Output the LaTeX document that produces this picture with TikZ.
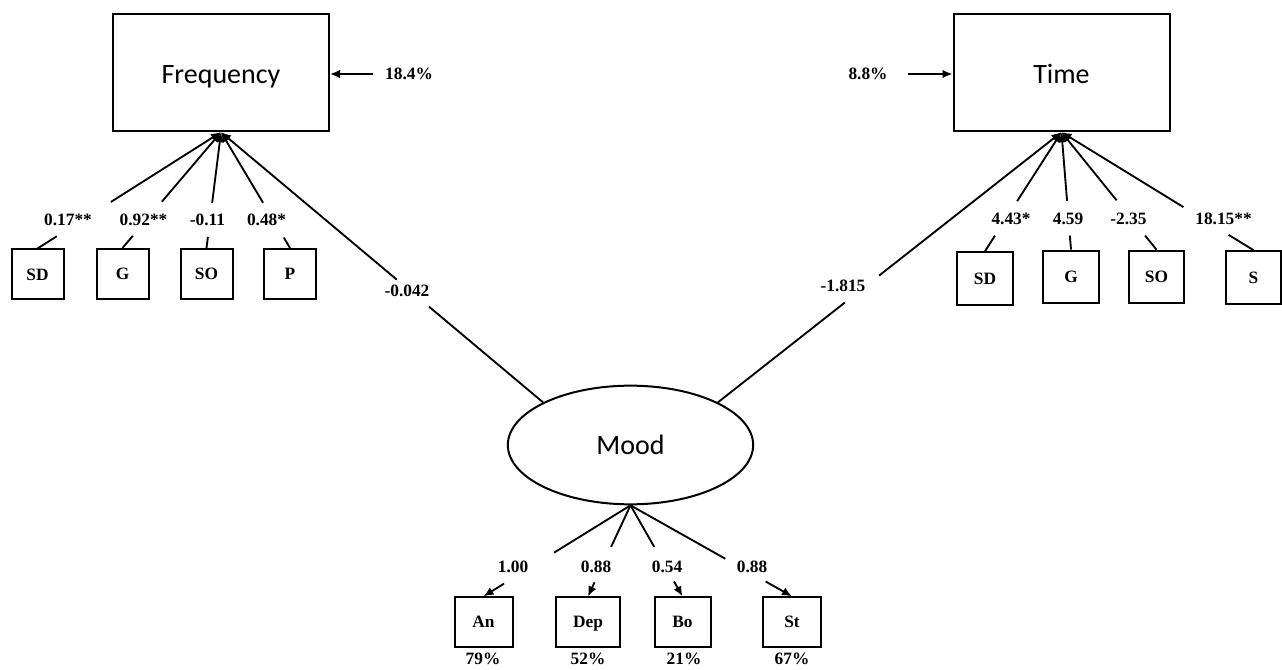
\documentclass[tikz,border=0pt]{standalone}
\usepackage{fontspec}
\setmainfont{Liberation Serif}
\newfontfamily\calibrifont{Carlito}
\usetikzlibrary{arrows.meta,calc,shapes.geometric}

\tikzset{
  construct/.style={draw, line width=1.5pt, minimum width=162pt, minimum height=88pt,
    text height=15.8pt, text depth=0pt, font=\calibrifont\fontsize{21}{25}\selectfont},
  latent/.style={draw, ellipse, line width=1.5pt, inner sep=0pt, minimum width=184pt,
    minimum height=89pt, font=\calibrifont\fontsize{21}{25}\selectfont},
  indicator/.style={draw, line width=1.5pt, inner sep=0pt, minimum width=39pt,
    minimum height=37.5pt, text height=8.7pt, text depth=0pt,
    font=\bfseries\fontsize{13}{15}\selectfont},
  coef/.style={inner sep=0pt, font=\bfseries\fontsize{13}{15}\selectfont},
  link/.style={line width=1.4pt},
  tipend/.style={-{Latex[length=7.5pt,width=6.5pt]}},
  tipstart/.style={{Latex[length=7.5pt,width=6.5pt]}-},
}

\begin{document}
\begin{tikzpicture}[x=0.75pt,y=-0.75pt]
\useasboundingbox (0,0) rectangle (1282,670);

% constructs
\node[construct] (freq) at (221,72.5) {Frequency};
\node[construct] (time) at (1061.5,72.5) {Time};
\node[latent] (mood) at (630.5,445) {Mood};

% explained variance
\node[coef] (r2freq) at (409,74) {18.4\%};
\node[coef] (r2time) at (868,74) {8.8\%};
\draw[link,tipend,shorten <=9pt] (r2freq.west) -- (r2freq.west -| freq.east);
\draw[link,tipend,shorten <=15pt] (r2time.east) -- (r2time.east -| time.west);

% indicators of frequency
\node[indicator] (fSD) at (37.5,274.5) {SD};
\node[indicator] (fG) at (122.5,274) {G};
\node[indicator] (fSO) at (206.5,274) {SO};
\node[indicator] (fP) at (290,274) {P};
\node[coef] (cfSD) at (68,220) {0.17**};
\node[coef] (cfG) at (143.5,220) {0.92**};
\node[coef] (cfSO) at (207.5,220) {-0.11};
\node[coef] (cfP) at (266.5,220) {0.48*};

% indicators of time
\node[indicator,minimum width=41.5pt,minimum height=39.5pt] (tSD) at (985,278.5) {SD};
\node[indicator,minimum width=41.5pt,minimum height=39.5pt] (tG) at (1071,277) {G};
\node[indicator,minimum width=41.5pt,minimum height=39.5pt] (tSO) at (1156.5,277) {SO};
\node[indicator,minimum width=41.5pt,minimum height=39.5pt] (tS) at (1253.5,277.5) {S};
\node[coef] (ctSD) at (1011,219) {4.43*};
\node[coef] (ctG) at (1068,219) {4.59};
\node[coef] (ctSO) at (1128.5,219) {-2.35};
\node[coef] (ctS) at (1223.5,219) {18.15**};

% indicators of mood
\node[indicator,minimum width=43.5pt,minimum height=37pt] (mAn) at (483.5,622) {An};
\node[indicator,minimum width=47.5pt,minimum height=37pt] (mDep) at (588,622) {Dep};
\node[indicator,minimum width=42pt,minimum height=37pt] (mBo) at (682.5,622) {Bo};
\node[indicator,minimum width=43pt,minimum height=37pt] (mSt) at (792,622) {St};
\node[coef] (cmAn) at (513,567) {1.00};
\node[coef] (cmDep) at (596,567) {0.88};
\node[coef] (cmBo) at (667,567) {0.54};
\node[coef] (cmSt) at (752,567) {0.88};
\node[coef] (pAn) at (483,659) {79\%};
\node[coef] (pDep) at (588,659) {52\%};
\node[coef] (pBo) at (684,659) {21\%};
\node[coef] (pSt) at (792,659) {67\%};

% paths with a gap for the coefficient
\foreach \ind/\a/\b in {fSD/0.6/0.895, fG/0.6/0.895, fSO/0.61/0.905, fP/0.61/0.91} {
  \draw[link,tipstart] (freq.south) -- ($(freq.south)!\a!(\ind.north)$);
  \draw[link] ($(freq.south)!\b!(\ind.north)$) -- (\ind.north);
}
\foreach \ind/\a/\b in {tSD/0.58/0.87, tG/0.585/0.88, tSO/0.58/0.88, tS/0.635/0.87} {
  \draw[link,tipstart] (time.south) -- ($(time.south)!\a!(\ind.north)$);
  \draw[link] ($(time.south)!\b!(\ind.north)$) -- (\ind.north);
}
\foreach \ind/\a/\b in {mAn/0.52/0.86, mDep/0.457/0.846, mBo/0.457/0.837, mSt/0.587/0.837} {
  \draw[link] (mood.south) -- ($(mood.south)!\a!(\ind.north)$);
  \draw[link,tipend] ($(mood.south)!\b!(\ind.north)$) -- (\ind.north);
}

% structural paths
\node[coef] (cFreq) at (407,291) {-0.042};
\node[coef] (cTime) at (843,286) {-1.815};
\draw[link,tipstart] (freq.south) -- ($(freq.south)!0.546!(mood.north west)$);
\draw[link] ($(freq.south)!0.646!(mood.north west)$) -- (mood.north west);
\draw[link,tipstart] (time.south) -- ($(time.south)!0.531!(mood.north east)$);
\draw[link] ($(time.south)!0.631!(mood.north east)$) -- (mood.north east);
\end{tikzpicture}
\end{document}
